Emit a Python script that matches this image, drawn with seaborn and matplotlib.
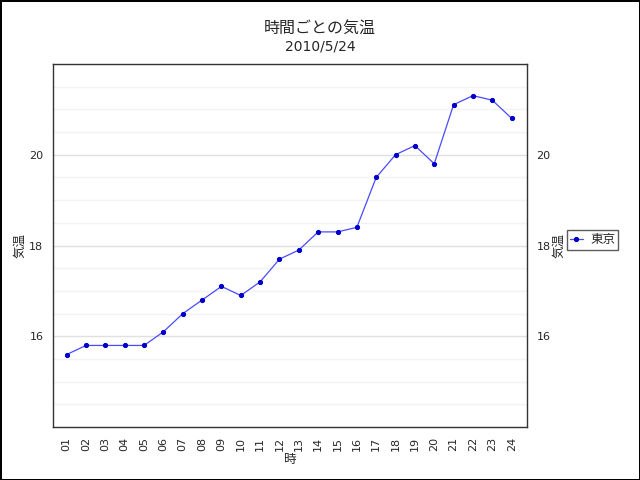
import matplotlib
matplotlib.use("Agg")
import matplotlib.pyplot as plt
import seaborn as sns
import pandas as pd
from matplotlib.ticker import MultipleLocator

# hourly temperature
hours = ["01", "02", "03", "04", "05", "06", "07", "08", "09", "10", "11", "12",
         "13", "14", "15", "16", "17", "18", "19", "20", "21", "22", "23", "24"]
temps = [15.6, 15.8, 15.8, 15.8, 15.8, 16.1, 16.5, 16.8, 17.1, 16.9, 17.2, 17.7,
         17.9, 18.3, 18.3, 18.4, 19.5, 20.0, 20.2, 19.8, 21.1, 21.3, 21.2, 20.8]
city = "東京"

df = pd.DataFrame({"時": hours, "気温": temps, "city": city})

sns.set_style("white")
plt.rcParams['font.family'] = ['DejaVu Sans', 'Noto Sans CJK JP']

fig = plt.figure(figsize=(6.4, 4.8), dpi=100, edgecolor='black', linewidth=1)
ax = fig.add_axes([0.083, 0.110, 0.740, 0.757])

sns.lineplot(data=df, x="時", y="気温", hue="city", palette=["#4a4aff"],
             marker="o", markersize=3, markerfacecolor="#0000cc",
             markeredgecolor="#0000cc", linewidth=0.9, ax=ax, sort=False)

ax.set_ylim(14, 22)
ax.set_xlim(-0.7, 23.78)
ax.yaxis.set_minor_locator(MultipleLocator(0.5))
ax.set_yticks([16, 18, 20])
ax.grid(which='major', axis='y', color='#e0e0e0', linewidth=1)
ax.grid(which='minor', axis='y', color='#f3f3f3', linewidth=1)
ax.tick_params(axis='both', which='both', length=0, labelsize=8, pad=7)
ax.tick_params(axis='x', rotation=90)
for s in ax.spines.values():
    s.set_color('#333333')
    s.set_linewidth(1)
ax.set_xlabel("時", fontsize=9, labelpad=1)
ax.set_ylabel("気温", fontsize=9, labelpad=2)

ax2 = ax.twinx()
ax2.set_ylim(ax.get_ylim())
ax2.set_yticks([16, 18, 20])
ax2.tick_params(axis='y', length=0, labelsize=8, pad=7)
ax2.set_ylabel("気温", fontsize=9, labelpad=1)
for s in ax2.spines.values():
    s.set_visible(False)

leg = ax.legend(loc='center left', bbox_to_anchor=(0.886, 0.5), bbox_transform=fig.transFigure,
                borderaxespad=0, fontsize=9, frameon=True, fancybox=False, edgecolor='#333333',
                handlelength=1.0, handletextpad=0.6, borderpad=0.25)
leg.get_frame().set_linewidth(1)

fig.text(0.5, 0.942, "時間ごとの気温", ha='center', va='center', fontsize=11.5)
fig.text(0.5, 0.904, "2010/5/24", ha='center', va='center', fontsize=10)

fig.savefig("out.png", dpi=100, edgecolor=fig.get_edgecolor())
